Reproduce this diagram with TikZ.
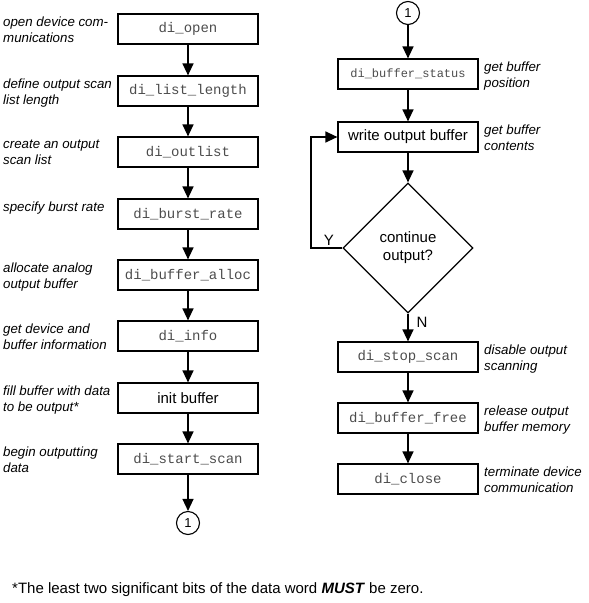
\documentclass[tikz,border=0pt]{standalone}
\usepackage{fontspec}
\setmainfont{Liberation Sans}
\setmonofont{Liberation Mono}
\usetikzlibrary{arrows.meta,shapes.geometric}

\begin{document}
\begin{tikzpicture}[x=1pt, y=-1pt,
  every node/.style={font=\fontsize{15}{18}\selectfont},
  fbox/.style={draw, line width=1.2pt, minimum width=140pt, minimum height=30pt, inner sep=0pt},
  call/.style={fbox, font=\fontsize{14}{16}\selectfont\ttfamily, text=black!70},
  note/.style={anchor=north west, align=left, inner sep=0pt, font=\fontsize{13.3}{16}\selectfont\itshape},
  conn/.style={draw, circle, line width=1.1pt, minimum size=23pt, inner sep=0pt, font=\fontsize{13}{15}\selectfont},
  flow/.style={line width=1.3pt, -{Triangle[length=12pt, width=11pt]}}]

  \useasboundingbox (0, 0) rectangle (589, 603);

  % left column
  \node[call] (open)   at (188,  29) {di\_open};
  \node[call] (length) at (188,  91) {di\_list\_length};
  \node[call] (outl)   at (188, 152) {di\_outlist};
  \node[call] (burst)  at (188, 214) {di\_burst\_rate};
  \node[call] (alloc)  at (188, 275) {di\_buffer\_alloc};
  \node[call] (info)   at (188, 336) {di\_info};
  \node[fbox] (init)   at (188, 398) {init buffer};
  \node[call] (start)  at (188, 459) {di\_start\_scan};
  \node[conn] (offa)   at (188, 523) {1};

  \node[note] (nopen)   at (3,  17) {open device com-\\munications};
  \node[note] (nlength) at (3,  79) {define output scan\\list length};
  \node[note] (noutl)   at (3, 140) {create an output\\scan list};
  \node[note] (nburst)  at (3, 202) {specify burst rate};
  \node[note] (nalloc)  at (3, 263) {allocate analog\\output buffer};
  \node[note] (ninfo)   at (3, 324) {get device and\\buffer information};
  \node[note] (ninit)   at (3, 386) {fill buffer with data\\to be output*};
  \node[note] (nstart)  at (3, 447) {begin outputting\\data};

  \draw[flow] (open) -- (length);
  \draw[flow] (length) -- (outl);
  \draw[flow] (outl) -- (burst);
  \draw[flow] (burst) -- (alloc);
  \draw[flow] (alloc) -- (info);
  \draw[flow] (info) -- (init);
  \draw[flow] (init) -- (start);
  \draw[flow] (start) -- (offa);

  % right column
  \node[conn] (offb)   at (408,  13) {1};
  \node[call, font=\fontsize{12}{14}\selectfont\ttfamily] (status) at (408,  74) {di\_buffer\_status};
  \node[fbox] (write)  at (408, 137) {write output buffer};
  \node[draw, diamond, aspect=1, line width=1.2pt, minimum width=130pt, minimum height=130pt,
        inner sep=0pt, align=center] (cont) at (408, 248) {continue\\output?};
  \node[call] (stop)   at (408, 357) {di\_stop\_scan};
  \node[call] (free)   at (408, 418) {di\_buffer\_free};
  \node[call] (close)  at (408, 479) {di\_close};

  \node[note] (nstatus) at (484,  62) {get buffer\\position};
  \node[note] (nwrite)  at (484, 125) {get buffer\\contents};
  \node[note] (nstop)   at (484, 345) {disable output\\scanning};
  \node[note] (nfree)   at (484, 406) {release output\\buffer memory};
  \node[note] (nclose)  at (484, 467) {terminate device\\communication};

  \coordinate (bend) at (311, 248);
  \draw[flow] (offb) -- (status);
  \draw[flow] (status) -- (write);
  \draw[flow] (write) -- (cont);
  \draw[flow] (cont.west) -- (bend) |- (write.west);
  \draw[flow] (cont) -- (stop);
  \draw[flow] (stop) -- (free);
  \draw[flow] (free) -- (close);

  \node (yes) at (329, 240) {Y};
  \node (no)  at (422, 322) {N};

  % footnote
  \node[anchor=west, inner sep=0pt] (foot) at (12, 590)
    {*The least two significant bits of the data word \textbf{\textit{MUST}} be zero.};

\end{tikzpicture}
\end{document}
